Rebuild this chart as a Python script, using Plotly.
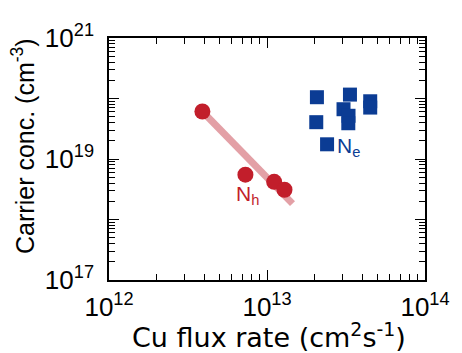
import plotly.graph_objects as go

# Data
flux_h = [3.9e12, 7.3e12, 1.11e13, 1.29e13]
conc_h = [6.1e19, 5.5e18, 4.2e18, 3.1e18]
fit_flux = [3.9e12, 1.45e13]
fit_conc = [6.1e19, 1.83e18]
flux_e = [2.07e13, 2.05e13, 3.35e13, 3.05e13, 4.5e13, 4.5e13, 3.28e13, 3.27e13, 2.4e13]
conc_e = [1.05e20, 4.06e19, 1.16e20, 6.65e19, 9.0e19, 7.08e19, 5.18e19, 3.9e19, 1.75e19]

x_major = [1e12, 1e13, 1e14]
x_major_text = ["10<sup>12</sup>", "10<sup>13</sup>", "10<sup>14</sup>"]
y_major = [1e17, 1e18, 1e19, 1e20, 1e21]
y_major_text = ["10<sup>17</sup>", "", "10<sup>19</sup>", "", "10<sup>21</sup>"]
x_minor = [float(k) * 10.0 ** n for n in (12, 13) for k in range(2, 10)]
y_minor = [float(k) * 10.0 ** n for n in (17, 18, 19, 20) for k in range(2, 10)]

RED = "#c21e2b"
BLUE = "#0b3c94"
FONT = "Liberation Sans, Arial, sans-serif"

fig = go.Figure()
fig.add_trace(go.Scatter(x=fit_flux, y=fit_conc, mode="lines",
                         line=dict(color="#e3a0a6", width=7), showlegend=False))
fig.add_trace(go.Scatter(x=flux_h, y=conc_h, mode="markers",
                         marker=dict(symbol="circle", size=16, color=RED, line=dict(width=0)),
                         showlegend=False))
fig.add_trace(go.Scatter(x=flux_e, y=conc_e, mode="markers",
                         marker=dict(symbol="square", size=14, color=BLUE, line=dict(width=0)),
                         showlegend=False))
# empty trace that carries the minor-tick overlay axes
fig.add_trace(go.Scatter(x=[], y=[], xaxis="x2", yaxis="y2", showlegend=False,
                         hoverinfo="skip"))

# series labels (annotation positions on log axes are in log10 units)
fig.add_annotation(x=12.79, y=18.40, text="N<sub>h</sub>", showarrow=False,
                   font=dict(size=21, color=RED, family=FONT), xanchor="left", yanchor="middle")
fig.add_annotation(x=13.43, y=19.20, text="N<sub>e</sub>", showarrow=False,
                   font=dict(size=21, color=BLUE, family=FONT), xanchor="left", yanchor="middle")

# axis titles
fig.add_annotation(xref="paper", yref="paper", x=0.505, y=0, yanchor="middle",
                   yshift=-55, showarrow=False,
                   text="Cu flux rate (cm<sup>2</sup>s<sup>-1</sup>)",
                   font=dict(size=27, color="black", family="DejaVu Sans, sans-serif"))
fig.add_annotation(xref="paper", yref="paper", x=0, y=0.554, xanchor="center",
                   xshift=-86, showarrow=False, textangle=-90,
                   text="Carrier conc. (cm<sup>-3</sup>)",
                   font=dict(size=25, color="black", family=FONT))

axis_common = dict(type="log", showgrid=False, zeroline=False, showline=True,
                   linecolor="black", linewidth=1.6, mirror="ticks", ticks="inside",
                   tickcolor="black", tickfont=dict(size=26, color="black", family=FONT))

fig.update_layout(
    width=454, height=345, margin=dict(l=101, r=34, t=24, b=73),
    plot_bgcolor="white", paper_bgcolor="white", font=dict(family=FONT),
    xaxis=dict(**axis_common, range=[12, 14], tickmode="array", tickvals=x_major,
               ticktext=x_major_text, ticklen=10, tickwidth=1.4, ticklabelstandoff=3),
    yaxis=dict(**axis_common, range=[17, 21], tickmode="array", tickvals=y_major,
               ticktext=y_major_text, ticklen=10, tickwidth=1.4, ticklabelstandoff=8),
    xaxis2=dict(**axis_common, range=[12, 14], overlaying="x", anchor="y2", side="bottom",
                tickmode="array", tickvals=x_minor, ticklen=6, tickwidth=1.1,
                showticklabels=False),
    yaxis2=dict(**axis_common, range=[17, 21], overlaying="y", anchor="x2", side="left",
                tickmode="array", tickvals=y_minor, ticklen=6, tickwidth=1.1,
                showticklabels=False),
)

fig.write_html("out.html")
